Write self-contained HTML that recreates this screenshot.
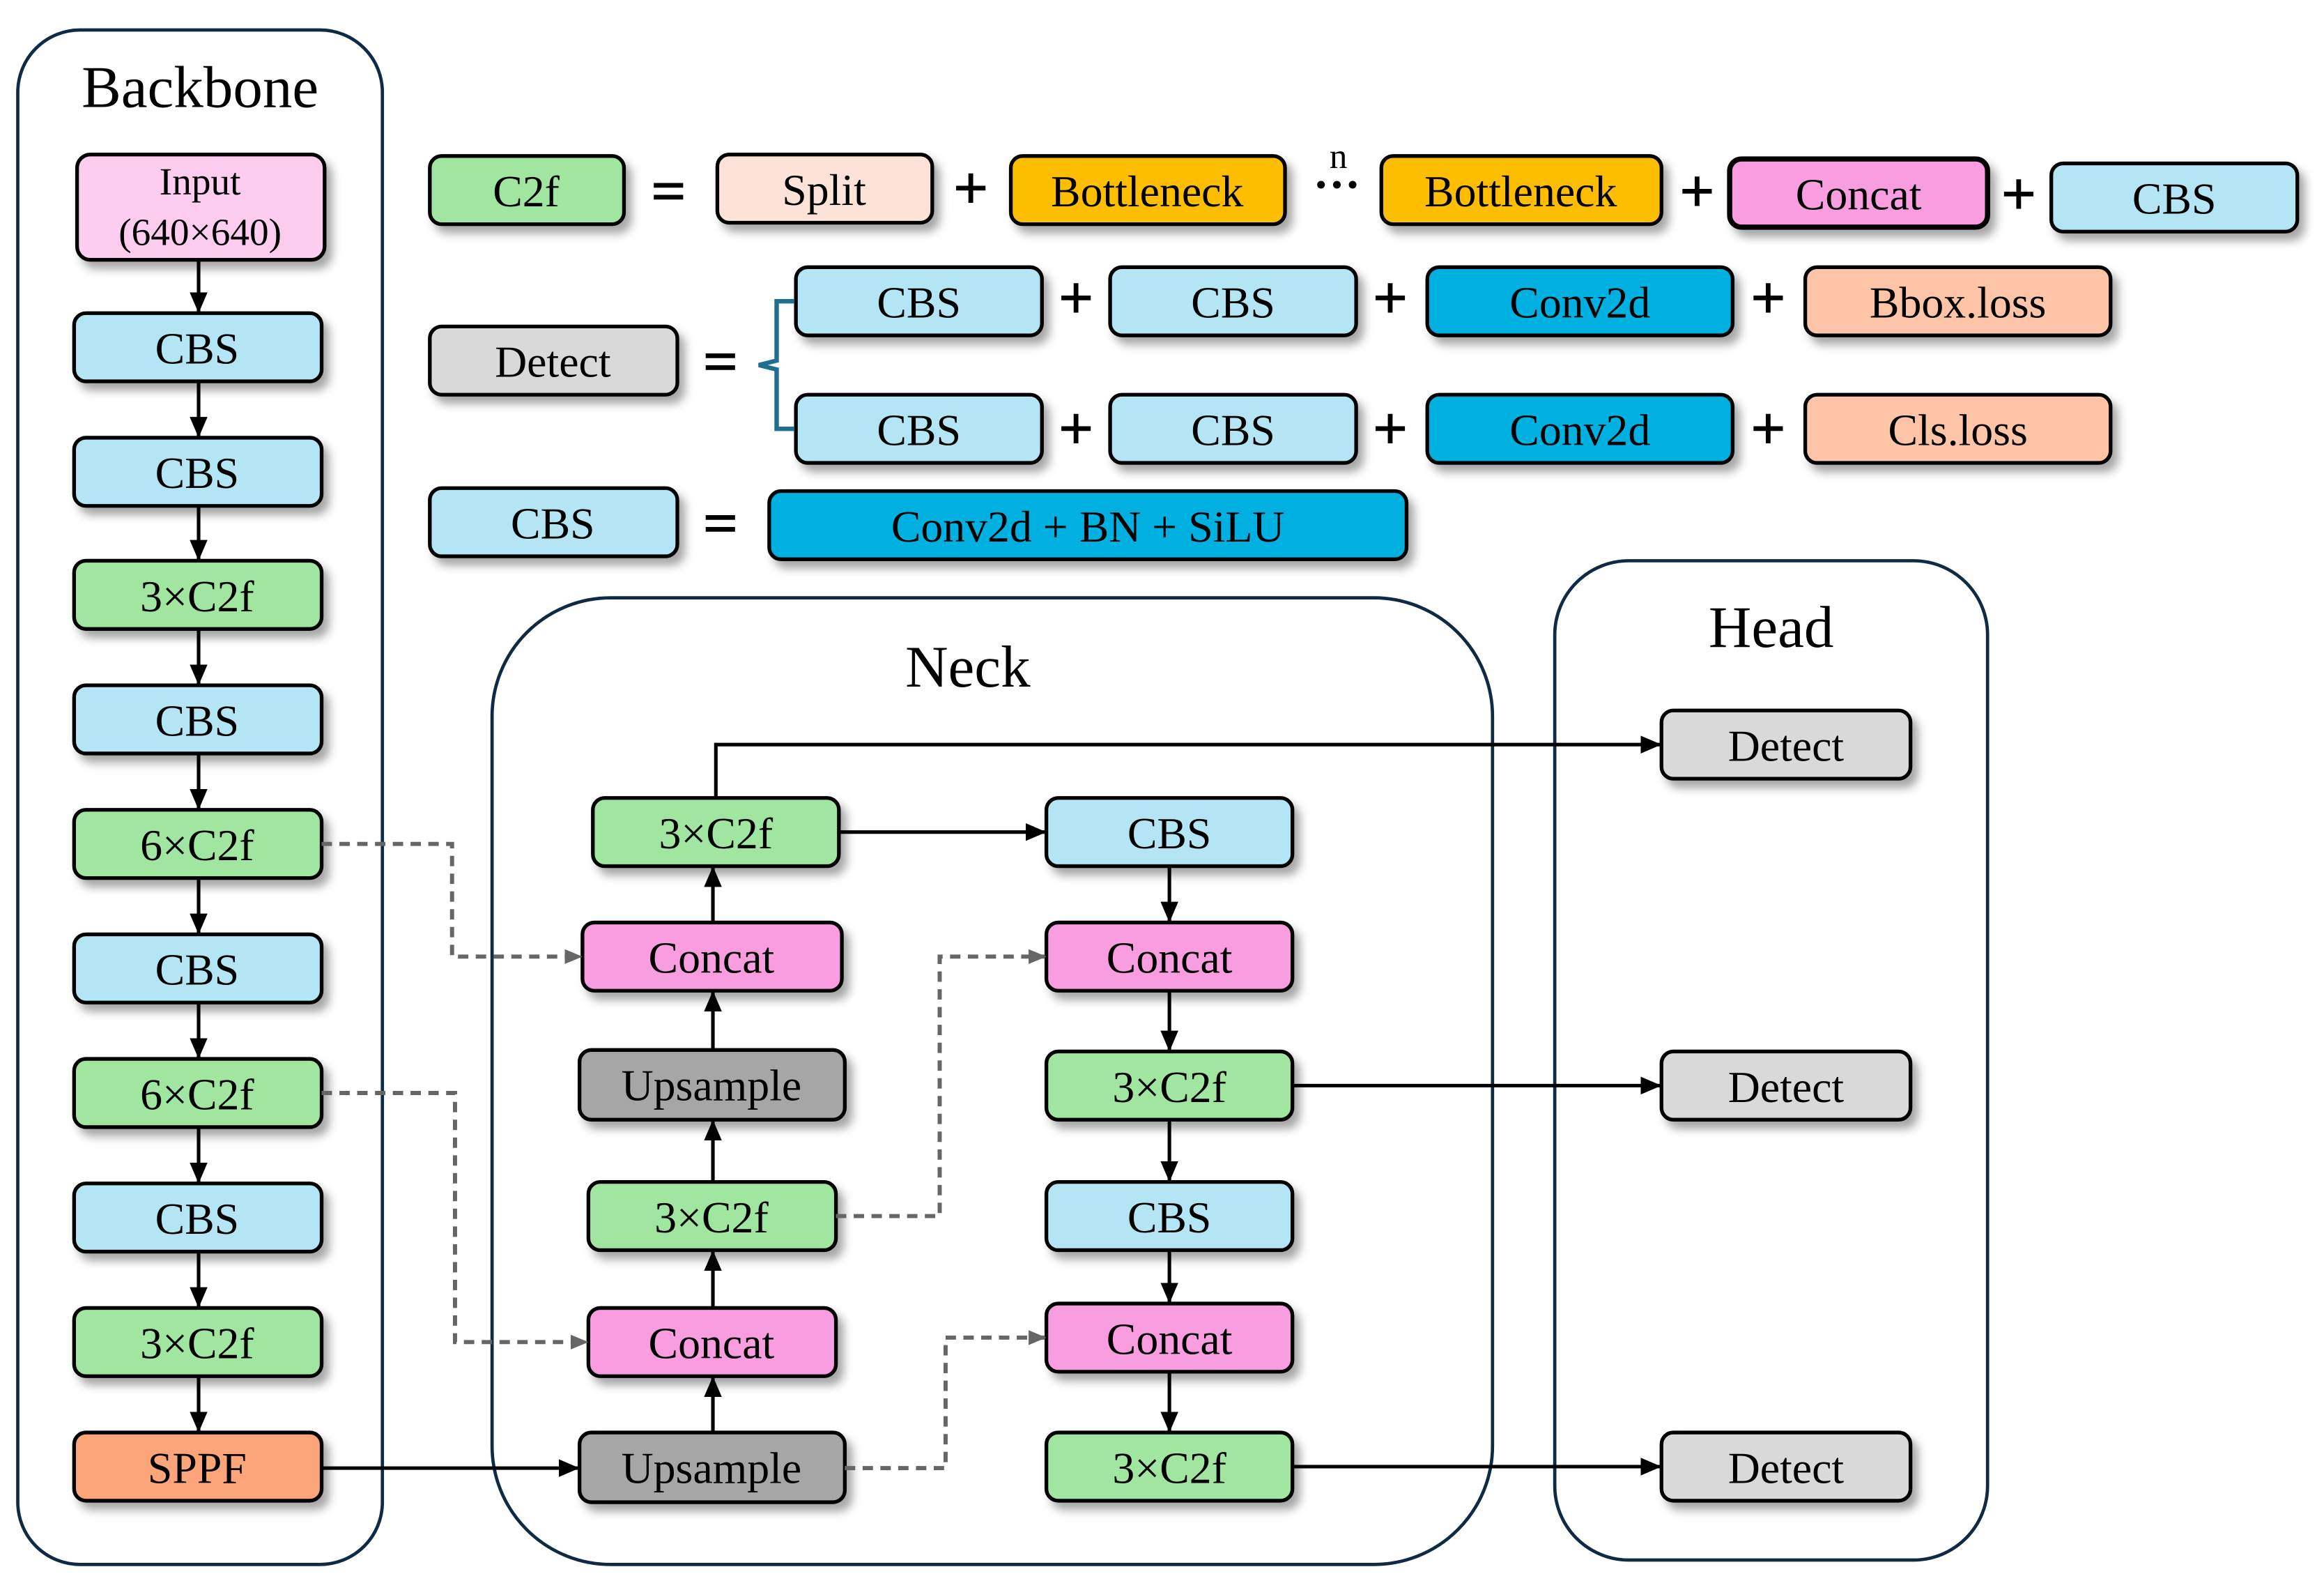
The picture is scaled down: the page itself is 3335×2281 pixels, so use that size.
<!DOCTYPE html>
<html><head><meta charset="utf-8"><style>html,body{margin:0;padding:0;background:#fff}svg{display:block}</style></head>
<body>
<svg width="3335" height="2281" viewBox="0 0 1568 1072" xmlns="http://www.w3.org/2000/svg" font-family="'Liberation Serif', serif">
<defs>
<filter id="sh" x="-20%" y="-30%" width="150%" height="180%"><feDropShadow dx="4" dy="5" stdDeviation="3" flood-color="#000" flood-opacity="0.35"/></filter>
<marker id="ar" markerWidth="14" markerHeight="12" refX="13" refY="6" orient="auto" markerUnits="userSpaceOnUse"><path d="M0,0 L14,6 L0,12 z" fill="#000"/></marker>
<marker id="ag" markerWidth="12" markerHeight="10" refX="11" refY="5" orient="auto" markerUnits="userSpaceOnUse"><path d="M0,0 L12,5 L0,10 z" fill="#666"/></marker>
</defs>
<g fill="none" stroke="#0f2a45" stroke-width="2.2">
<rect x="12" y="20" width="246" height="1035" rx="42"/>
<rect x="332" y="403" width="675" height="652" rx="80"/>
<rect x="1049" y="378" width="292" height="674" rx="50"/>
</g>
<g font-size="40" text-anchor="middle" fill="#000">
<text x="135" y="72">Backbone</text>
<text x="653" y="463">Neck</text>
<text x="1195" y="436">Head</text>
</g>
<g stroke="#000" stroke-width="2.5" filter="url(#sh)">
<rect x="52" y="104" width="167" height="71" rx="9" fill="#fccdee"/>
<rect x="50" y="211" width="167" height="46" rx="8" fill="#b3e5f5"/>
<rect x="50" y="295" width="167" height="46" rx="8" fill="#b3e5f5"/>
<rect x="50" y="378" width="167" height="46" rx="8" fill="#a0e6a0"/>
<rect x="50" y="462" width="167" height="46" rx="8" fill="#b3e5f5"/>
<rect x="50" y="546" width="167" height="46" rx="8" fill="#a0e6a0"/>
<rect x="50" y="630" width="167" height="46" rx="8" fill="#b3e5f5"/>
<rect x="50" y="714" width="167" height="46" rx="8" fill="#a0e6a0"/>
<rect x="50" y="798" width="167" height="46" rx="8" fill="#b3e5f5"/>
<rect x="50" y="882" width="167" height="46" rx="8" fill="#a0e6a0"/>
<rect x="50" y="966" width="167" height="46" rx="8" fill="#fca57a"/>
<rect x="290" y="105" width="131" height="46" rx="8" fill="#a0e6a0"/>
<rect x="484" y="104" width="145" height="46" rx="8" fill="#fde3d7"/>
<rect x="682" y="105" width="185" height="46" rx="8" fill="#fdbd00"/>
<rect x="932" y="105" width="189" height="46" rx="8" fill="#fdbd00"/>
<rect x="1167" y="107" width="174" height="46" rx="8" fill="#f79de0" stroke-width="3.5"/>
<rect x="1384" y="110" width="166" height="46" rx="8" fill="#b3e5f5"/>
<rect x="290" y="220" width="167" height="46" rx="8" fill="#d9d9d9"/>
<rect x="537" y="180" width="166" height="46" rx="8" fill="#b3e5f5"/>
<rect x="749" y="180" width="166" height="46" rx="8" fill="#b3e5f5"/>
<rect x="963" y="180" width="206" height="46" rx="8" fill="#00b0e0"/>
<rect x="1218" y="180" width="206" height="46" rx="8" fill="#fdc4a7"/>
<rect x="537" y="266" width="166" height="46" rx="8" fill="#b3e5f5"/>
<rect x="749" y="266" width="166" height="46" rx="8" fill="#b3e5f5"/>
<rect x="963" y="266" width="206" height="46" rx="8" fill="#00b0e0"/>
<rect x="1218" y="266" width="206" height="46" rx="8" fill="#fdc4a7"/>
<rect x="290" y="329" width="167" height="46" rx="8" fill="#b3e5f5"/>
<rect x="519" y="331" width="430" height="46" rx="8" fill="#00b0e0"/>
<rect x="400" y="538" width="166" height="46" rx="8" fill="#a0e6a0"/>
<rect x="393" y="622" width="175" height="46" rx="8" fill="#f79de0"/>
<rect x="391" y="708" width="179" height="47" rx="8" fill="#a6a6a6"/>
<rect x="397" y="797" width="167" height="46" rx="8" fill="#a0e6a0"/>
<rect x="397" y="882" width="167" height="46" rx="8" fill="#f79de0"/>
<rect x="391" y="966" width="179" height="47" rx="8" fill="#a6a6a6"/>
<rect x="706" y="538" width="166" height="46" rx="8" fill="#b3e5f5"/>
<rect x="706" y="622" width="166" height="46" rx="8" fill="#f79de0"/>
<rect x="706" y="709" width="166" height="46" rx="8" fill="#a0e6a0"/>
<rect x="706" y="797" width="166" height="46" rx="8" fill="#b3e5f5"/>
<rect x="706" y="879" width="166" height="46" rx="8" fill="#f79de0"/>
<rect x="706" y="966" width="166" height="46" rx="8" fill="#a0e6a0"/>
<rect x="1121" y="479" width="168" height="46" rx="8" fill="#d9d9d9"/>
<rect x="1121" y="709" width="168" height="46" rx="8" fill="#d9d9d9"/>
<rect x="1121" y="966" width="168" height="46" rx="8" fill="#d9d9d9"/>
</g>
<g font-size="30" text-anchor="middle" fill="#000">
<text x="135" y="131" font-size="26">Input</text>
<text x="135" y="165" font-size="26">(640×640)</text>
<text x="133" y="245">CBS</text>
<text x="133" y="329">CBS</text>
<text x="133" y="412">3×C2f</text>
<text x="133" y="496">CBS</text>
<text x="133" y="580">6×C2f</text>
<text x="133" y="664">CBS</text>
<text x="133" y="748">6×C2f</text>
<text x="133" y="832">CBS</text>
<text x="133" y="916">3×C2f</text>
<text x="133" y="1000">SPPF</text>
<text x="355" y="139">C2f</text>
<text x="556" y="138">Split</text>
<text x="774" y="139">Bottleneck</text>
<text x="1026" y="139">Bottleneck</text>
<text x="1254" y="141">Concat</text>
<text x="1467" y="144">CBS</text>
<text x="373" y="254">Detect</text>
<text x="620" y="214">CBS</text>
<text x="832" y="214">CBS</text>
<text x="1066" y="214">Conv2d</text>
<text x="1321" y="214">Bbox.loss</text>
<text x="620" y="300">CBS</text>
<text x="832" y="300">CBS</text>
<text x="1066" y="300">Conv2d</text>
<text x="1321" y="300">Cls.loss</text>
<text x="373" y="363">CBS</text>
<text x="734" y="365">Conv2d + BN + SiLU</text>
<text x="483" y="572">3×C2f</text>
<text x="480" y="656">Concat</text>
<text x="480" y="742">Upsample</text>
<text x="480" y="831">3×C2f</text>
<text x="480" y="916">Concat</text>
<text x="480" y="1000">Upsample</text>
<text x="789" y="572">CBS</text>
<text x="789" y="656">Concat</text>
<text x="789" y="743">3×C2f</text>
<text x="789" y="831">CBS</text>
<text x="789" y="913">Concat</text>
<text x="789" y="1000">3×C2f</text>
<text x="1205" y="513">Detect</text>
<text x="1205" y="743">Detect</text>
<text x="1205" y="1000">Detect</text>
</g>
<g font-size="40" text-anchor="middle" fill="#000" stroke="#000" stroke-width="1.2">
<text x="451" y="142">=</text>
<text x="486" y="257">=</text>
<text x="486" y="366">=</text>
<text x="655" y="140">+</text>
<text x="1145" y="142">+</text>
<text x="1362" y="144">+</text>
<text x="726" y="214">+</text>
<text x="938" y="214">+</text>
<text x="1193" y="214">+</text>
<text x="726" y="302">+</text>
<text x="938" y="302">+</text>
<text x="1193" y="302">+</text>
</g>
<text x="903" y="113" font-size="24" text-anchor="middle">n</text>
<text x="902" y="135" font-size="32" text-anchor="middle" font-weight="bold">···</text>
<path d="M536,203 H524 V243 L512,246 L524,249 V289 H536" fill="none" stroke="#1f6f8f" stroke-width="3"/>
<g stroke="#000" stroke-width="2.4" fill="none" marker-end="url(#ar)">
<line x1="134" y1="175" x2="134" y2="210"/>
<line x1="134" y1="257" x2="134" y2="294"/>
<line x1="134" y1="341" x2="134" y2="377"/>
<line x1="134" y1="424" x2="134" y2="461"/>
<line x1="134" y1="508" x2="134" y2="545"/>
<line x1="134" y1="592" x2="134" y2="629"/>
<line x1="134" y1="676" x2="134" y2="713"/>
<line x1="134" y1="760" x2="134" y2="797"/>
<line x1="134" y1="844" x2="134" y2="881"/>
<line x1="134" y1="928" x2="134" y2="965"/>
<line x1="217" y1="990" x2="390" y2="990"/>
<line x1="481" y1="966" x2="481" y2="929"/>
<line x1="481" y1="882" x2="481" y2="844"/>
<line x1="481" y1="797" x2="481" y2="756"/>
<line x1="481" y1="708" x2="481" y2="669"/>
<line x1="481" y1="622" x2="481" y2="585"/>
<polyline points="483,538 483,502 1120,502"/>
<line x1="566" y1="561" x2="705" y2="561"/>
<line x1="789" y1="584" x2="789" y2="621"/>
<line x1="789" y1="668" x2="789" y2="708"/>
<line x1="789" y1="755" x2="789" y2="796"/>
<line x1="789" y1="843" x2="789" y2="878"/>
<line x1="789" y1="925" x2="789" y2="965"/>
<line x1="872" y1="732" x2="1120" y2="732"/>
<line x1="872" y1="989" x2="1120" y2="989"/>
</g>
<g stroke="#666" stroke-width="2.8" fill="none" stroke-dasharray="7,5" marker-end="url(#ag)">
<polyline points="217,569 305,569 305,645 392,645"/>
<polyline points="217,737 307,737 307,905 396,905"/>
<polyline points="564,820 634,820 634,645 705,645"/>
<polyline points="570,990 638,990 638,902 705,902"/>
</g>
</svg>
</body></html>
